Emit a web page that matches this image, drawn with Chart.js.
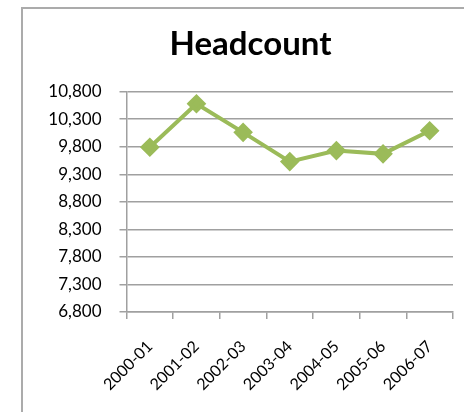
<!DOCTYPE html>
<html>
<head>
<meta charset="utf-8">
<script src="https://cdn.jsdelivr.net/npm/chart.js@4"></script>
<style>
  html, body { margin: 0; padding: 0; background: #fff; overflow: hidden; }
  #wrap { position: relative; width: 464px; height: 412px; }
  #frame {
    position: absolute; left: 21px; top: 7px; width: 600px; height: 600px;
    border-left: 2px solid #ababab; border-top: 2px solid #ababab;
  }
  #chart { position: absolute; left: 0; top: 0; }
</style>
</head>
<body>
<div id="wrap">
  <div id="frame"></div>
  <canvas id="chart" width="464" height="412"></canvas>
</div>
<script>
// Fiscal years and headcount per year
const years = ['2000-01', '2001-02', '2002-03', '2003-04', '2004-05', '2005-06', '2006-07'];
const headcount = [9790, 10580, 10060, 9530, 9730, 9670, 10090];
const yMin = 6800;
const yMax = 10800;
const yStep = 500;

const gridColor = '#a0a0a0';

const ctx = document.getElementById('chart');
new Chart(ctx, {
    type: 'line',
    data: {
        labels: years,
        datasets: [{
            label: 'Headcount',
            data: headcount,
            borderColor: '#9bbb59',
            backgroundColor: '#9bbb59',
            borderWidth: 4,
            pointStyle: 'rectRot',
            pointRadius: 7,
            pointHoverRadius: 7,
            tension: 0
        }]
    },
    options: {
        responsive: false,
        animation: false,
        layout: {
            padding: { left: 43, right: 6, top: 25, bottom: 0 }
        },
        plugins: {
            legend: { display: false },
            tooltip: { enabled: false },
            title: {
                display: true,
                text: 'Headcount',
                color: '#000',
                font: { family: 'Lato', size: 33, weight: 'bold', lineHeight: 1.2 },
                padding: { top: 0, bottom: 27 }
            }
        },
        scales: {
            x: {
                offset: true,
                grid: {
                    offset: true,
                    drawOnChartArea: false,
                    drawTicks: true,
                    tickLength: 7,
                    color: gridColor,
                    lineWidth: 1.5
                },
                border: { color: gridColor, width: 1.5 },
                ticks: {
                    color: '#000',
                    font: { family: 'Lato', size: 16 },
                    minRotation: 45,
                    maxRotation: 45,
                    padding: 18
                },
                afterFit: scale => { scale.height = 100; }
            },
            y: {
                min: yMin,
                max: yMax,
                grid: {
                    color: gridColor,
                    lineWidth: 1.5,
                    tickLength: 7
                },
                border: { color: gridColor, width: 1.5 },
                ticks: {
                    stepSize: yStep,
                    color: '#000',
                    font: { family: 'Lato', size: 17 },
                    padding: 18,
                    callback: v => v.toLocaleString('en-US')
                },
                afterFit: scale => { scale.width = 83.5; }
            }
        }
    }
});
</script>
</body>
</html>
